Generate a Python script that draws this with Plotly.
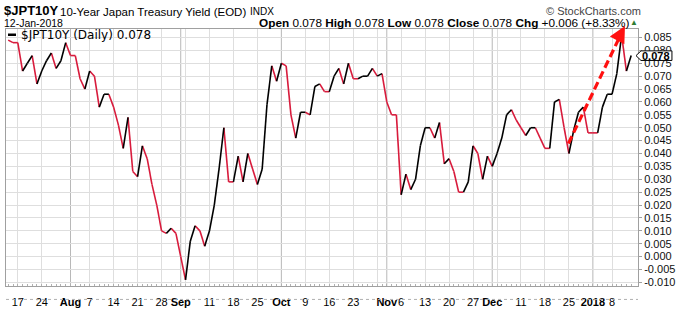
import pandas as pd
import plotly.graph_objects as go

# ---------------- data ----------------
symbol = "$JPT10Y"
title = "10-Year Japan Treasury Yield (EOD)"
exchange = "INDX"
as_of = "12-Jan-2018"

trade_dates = [d for d in pd.bdate_range("2017-07-13", "2018-01-12") if d != pd.Timestamp("2018-01-01")]

yields = [
    0.084, 0.083, 0.083, 0.072, 0.075, 0.078, 0.067, 0.072, 0.076, 0.079,
    0.073, 0.076, 0.083, 0.078, 0.078, 0.069, 0.065, 0.072, 0.070, 0.058,
    0.063, 0.063, 0.058, 0.051, 0.042, 0.054, 0.033, 0.031, 0.043, 0.038,
    0.028, 0.020, 0.010, 0.009, 0.011, 0.009, 0.000, -0.009, 0.006, 0.012,
    0.010, 0.004, 0.010, 0.020, 0.034, 0.050, 0.029, 0.029, 0.039, 0.029,
    0.040, 0.034, 0.028, 0.034, 0.059, 0.074, 0.068, 0.075, 0.074, 0.055,
    0.046, 0.056, 0.056, 0.055, 0.066, 0.067, 0.064, 0.064, 0.070, 0.073,
    0.067, 0.075, 0.069, 0.069, 0.070, 0.070, 0.073, 0.070, 0.071, 0.060,
    0.055, 0.055, 0.024, 0.032, 0.026, 0.030, 0.043, 0.050, 0.050, 0.046,
    0.052, 0.036, 0.038, 0.033, 0.025, 0.025, 0.029, 0.043, 0.040, 0.030,
    0.039, 0.035, 0.040, 0.046, 0.055, 0.057, 0.053, 0.050, 0.047, 0.050,
    0.050, 0.046, 0.042, 0.042, 0.060, 0.061, 0.050, 0.040, 0.049, 0.056,
    0.058, 0.048, 0.048, 0.048, 0.058, 0.063, 0.063, 0.071, 0.086, 0.072,
    0.078,
]

y_ticks = [-0.010, -0.005, 0.000, 0.005, 0.010, 0.015, 0.020, 0.025, 0.030, 0.035,
           0.040, 0.045, 0.050, 0.055, 0.060, 0.065, 0.070, 0.075, 0.080, 0.085]
y_range = [-0.0114, 0.0883]

# trend arrow annotation (trading-day index, yield)
arrow_start = (116.9, 0.0439)
arrow_head_base = (127.9, 0.0864)
arrow_tip = (128.7, 0.0895)

# ---------------- styling ----------------
RED = "#d81b3c"
BLACK = "#000000"
GRID = "#dedede"
MONTH_GRID = "#b8b8b8"
BORDER = "#a0a0a0"
W, H = 686, 313
L, R, T, B = 5, 638, 29, 297


def px(x):
    return (x - L) / (R - L)


def py(y):
    return (B - y) / (B - T)


n = len(yields)
idx = list(range(n))

# colour each segment: red when falling, black when rising
xr, yr, xb, yb = [], [], [], []
prev_col = "red"
for i in range(1, n):
    if yields[i] > yields[i - 1]:
        col = "black"
    elif yields[i] < yields[i - 1]:
        col = "red"
    else:
        col = prev_col
    prev_col = col
    if col == "red":
        xr += [idx[i - 1], idx[i], None]
        yr += [yields[i - 1], yields[i], None]
    else:
        xb += [idx[i - 1], idx[i], None]
        yb += [yields[i - 1], yields[i], None]

# x-axis labels / gridlines
month_starts = []
week_starts = []
for i, d in enumerate(trade_dates):
    if i > 0 and d.month != trade_dates[i - 1].month:
        month_starts.append(i)
    if i > 0 and d.isocalendar()[1] != trade_dates[i - 1].isocalendar()[1]:
        week_starts.append(i)

tick_text = [""] * n
for w in week_starts:
    if all(abs(w - m) > 2 for m in month_starts):
        tick_text[w] = str(trade_dates[w].day)
for m in month_starts:
    d = trade_dates[m]
    tick_text[m] = "<b>%s</b>" % (str(d.year) if d.month == 1 else d.strftime("%b"))

week_grid = [w for w in week_starts if w not in month_starts and (w + 1) not in month_starts]

fig = go.Figure()
fig.add_trace(go.Scatter(x=xr, y=yr, mode="lines", line=dict(color=RED, width=1.6),
                         hoverinfo="skip", showlegend=False))
fig.add_trace(go.Scatter(x=xb, y=yb, mode="lines", line=dict(color=BLACK, width=1.6),
                         hoverinfo="skip", showlegend=False))
# dashed trend arrow shaft
fig.add_trace(go.Scatter(x=[arrow_start[0], arrow_head_base[0]], y=[arrow_start[1], arrow_head_base[1]],
                         mode="lines", line=dict(color="#ff1010", width=3.2, dash="8px,4px"),
                         hoverinfo="skip", showlegend=False))

shapes = []
for m in month_starts:
    shapes.append(dict(type="line", xref="x", yref="paper", x0=m, x1=m, y0=0, y1=1,
                       line=dict(color=MONTH_GRID, width=1), layer="between"))
# legend dash
shapes.append(dict(type="line", xref="paper", yref="paper", x0=px(7), x1=px(15), y0=py(35), y1=py(35),
                   line=dict(color="black", width=2.5)))
# bottom dotted rule
shapes.append(dict(type="line", xref="paper", yref="paper", x0=px(5), x1=px(638), y0=py(311), y1=py(311),
                   line=dict(color="#b0b0b0", width=1, dash="dot")))
# last value tag
tag_y = 266.3 - yields[-1] * 2686
pts = [(636, tag_y), (641, tag_y - 5), (672, tag_y - 5), (672, tag_y + 5), (641, tag_y + 5)]
path = "M " + " L ".join("%f,%f" % (px(a), py(b)) for a, b in pts) + " Z"
shapes.append(dict(type="path", xref="paper", yref="paper", path=path,
                   line=dict(color="black", width=1), fillcolor="white", layer="above"))

last = yields[-1]
prev = yields[-2]
chg = last - prev
pct = chg / prev * 100

ann = []


def text(x, y, s, size, anchor="left", color="#000", family="Liberation Sans, Arial, sans-serif"):
    ann.append(dict(xref="paper", yref="paper", x=px(x), y=py(y), text=s, showarrow=False,
                    xanchor=anchor, yanchor="middle", borderpad=0,
                    font=dict(size=size, color=color, family=family)))


text(2, 10, "<b>%s</b>" % symbol, 13)
text(58, 11, title, 11.5)
text(248, 11, exchange, 10)
text(2, 23, as_of, 10.5)
text(631, 23, "<b>Open</b> %.3f <b>High</b> %.3f <b>Low</b> %.3f <b>Close</b> %.3f <b>Chg</b> %+.3f (%+.2f%%)"
     % (last, last, last, last, chg, pct), 11.8, anchor="right")
text(634, 22, "▲", 8, anchor="center", color="#2e7d32")
text(642, 10, "© StockCharts.com", 11, anchor="right", color="#444")
text(19, 35, "%s (Daily) %.3f" % (symbol, last), 12, family="DejaVu Sans")
text(656.5, tag_y, "<b>%.3f</b>" % last, 11, anchor="center")

ann.append(dict(xref="x", yref="y", axref="x", ayref="y", x=arrow_tip[0], y=arrow_tip[1],
                ax=arrow_head_base[0] - 0.6, ay=arrow_head_base[1] - 0.0017, text="", showarrow=True,
                arrowhead=2, arrowsize=1.1, arrowwidth=3, arrowcolor="#ff1010", standoff=0))

fig.update_layout(
    width=W, height=H,
    margin=dict(l=L, r=W - R, t=T, b=H - B, pad=0),
    paper_bgcolor="white", plot_bgcolor="white",
    showlegend=False,
    shapes=shapes, annotations=ann,
    font=dict(family="Liberation Sans, Arial, sans-serif", size=11, color="#000"),
    xaxis=dict(
        range=[-0.46, 131.42], tickmode="array", tickvals=idx, ticktext=tick_text,
        tickangle=0, ticks="inside", ticklen=2, tickcolor="#b0b0b0", showgrid=False,
        showline=True, linecolor=BORDER, linewidth=1, mirror=True, zeroline=False,
        ticklabelstandoff=6,
        tickfont=dict(size=11, family="Liberation Sans, Arial, sans-serif", color="#000"),
        minor=dict(tickmode="array", tickvals=week_grid, showgrid=True, gridcolor=GRID,
                   gridwidth=1, ticks=""),
    ),
    yaxis=dict(
        side="right", range=y_range, tickmode="array", tickvals=y_ticks,
        ticktext=["%.3f" % v for v in y_ticks], ticks="outside", ticklen=3, tickcolor=BORDER,
        showgrid=True, gridcolor=GRID, gridwidth=1, zeroline=False,
        showline=True, linecolor=BORDER, linewidth=1, mirror=True,
        tickfont=dict(size=11, family="Liberation Sans, Arial, sans-serif", color="#111"),
    ),
)

fig.write_html("out.html")
